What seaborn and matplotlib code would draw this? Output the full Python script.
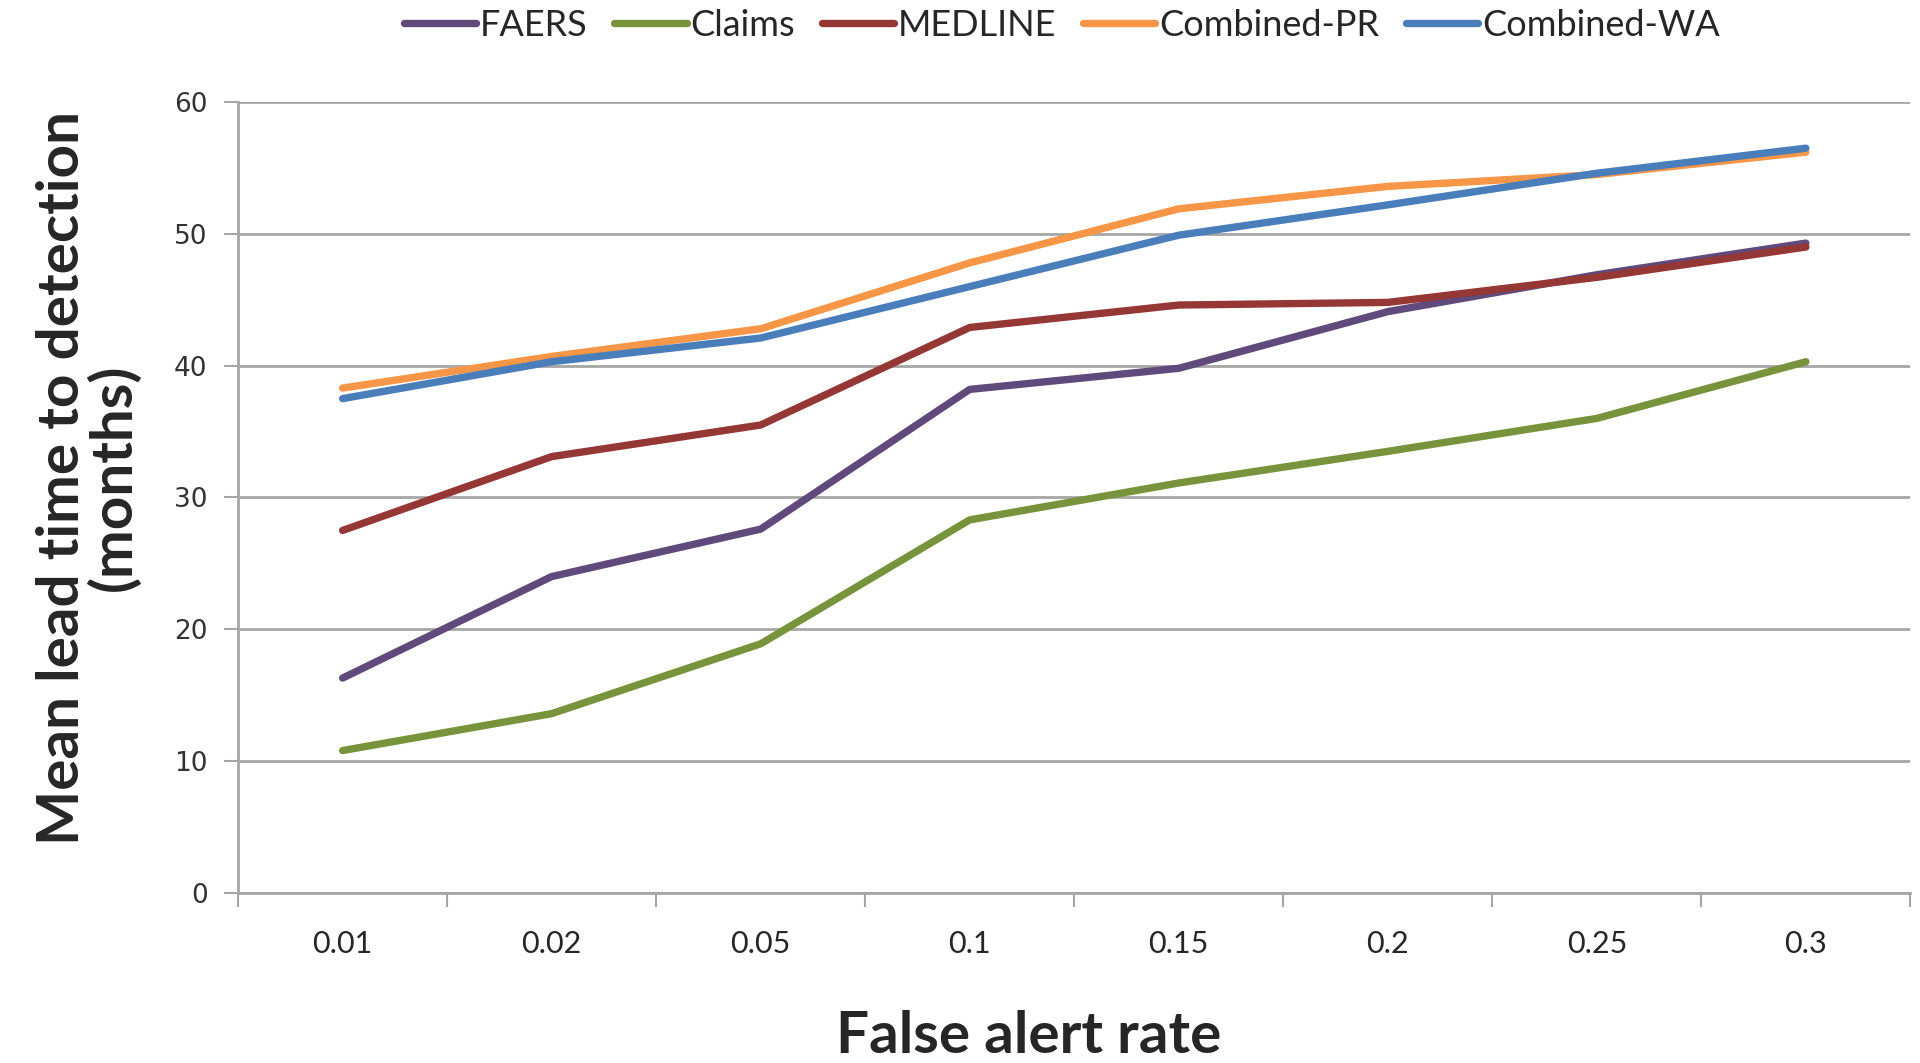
import numpy as np
import pandas as pd
import seaborn as sns
import matplotlib.pyplot as plt

# ---------------------------------------------------------------------------
# data
# ---------------------------------------------------------------------------
false_alert_rate = ['0.01', '0.02', '0.05', '0.1', '0.15', '0.2', '0.25', '0.3']

faers       = [16.3, 24.0, 27.6, 38.2, 39.8, 44.1, 46.9, 49.3]
claims      = [10.8, 13.6, 18.9, 28.3, 31.1, 33.5, 36.0, 40.3]
medline     = [27.5, 33.1, 35.5, 42.9, 44.6, 44.8, 46.7, 49.0]
combined_pr = [38.3, 40.7, 42.8, 47.8, 51.9, 53.6, 54.5, 56.2]
combined_wa = [37.5, 40.3, 42.1, 46.0, 49.9, 52.2, 54.6, 56.5]

series_names = ['FAERS', 'Claims', 'MEDLINE', 'Combined-PR', 'Combined-WA']
series_vals  = [faers, claims, medline, combined_pr, combined_wa]
colors       = ['#604a7b', '#77933c', '#953735', '#f79646', '#4a7ebb']

df = pd.DataFrame({
    'rate':   false_alert_rate * len(series_names),
    'months': sum(series_vals, []),
    'source': [n for n in series_names for _ in false_alert_rate],
})

# ---------------------------------------------------------------------------
# style
# ---------------------------------------------------------------------------
sns.set_theme(style='white')
plt.rcParams['font.family'] = ['Lato', 'DejaVu Sans']

grid_col = '#a6a6a6'

# ---------------------------------------------------------------------------
# plot
# ---------------------------------------------------------------------------
fig = plt.figure(figsize=(19.2, 10.63), dpi=100)
ax = fig.add_axes([0.124, 0.160, 0.871, 0.744])

sns.lineplot(data=df, x='rate', y='months', hue='source', hue_order=series_names,
             palette=colors, linewidth=5.3, sort=False, ax=ax, legend=True)

ax.set_ylim(0, 60)
ax.set_yticks(np.arange(0, 61, 10))
ax.set_xlim(-0.5, len(false_alert_rate) - 0.5)
ax.set_xticks(np.arange(-0.5, len(false_alert_rate), 1), minor=True)

ax.yaxis.grid(True, color=grid_col, linewidth=2)
ax.set_axisbelow(True)
for s in ['top', 'right']:
    ax.spines[s].set_visible(False)
for s in ['left', 'bottom']:
    ax.spines[s].set_color(grid_col)
    ax.spines[s].set_linewidth(2)

ax.tick_params(axis='x', which='major', bottom=False, length=0, pad=27, labelsize=22)
ax.tick_params(axis='x', which='minor', bottom=True, length=10, width=1.5,
               color=grid_col, direction='out')
ax.tick_params(axis='y', left=True, length=10, width=1.5, color=grid_col,
               direction='out', pad=12, labelsize=19)
for lbl in ax.get_yticklabels():
    lbl.set_family('DejaVu Sans')
    lbl.set_color('#333333')

# label anchors: xlabel -> top edge, ylabel -> right edge of the text block
ax.set_xlabel('False alert rate', fontsize=42, fontweight='bold')
ax.xaxis.set_label_coords(0.473, -0.148)
ax.set_ylabel('Mean lead time to detection\n(months)', fontsize=42,
              fontweight='bold', linespacing=0.95)
ax.yaxis.set_label_coords(-0.058, 0.525)

handles, labels = ax.get_legend_handles_labels()
ax.get_legend().remove()
fig.legend(handles, labels, loc='upper center', bbox_to_anchor=(0.553, 1.022),
           ncol=5, frameon=False, fontsize=26, handlelength=2.0,
           handletextpad=0.1, columnspacing=0.75)

fig.savefig('out.png', dpi=100)
